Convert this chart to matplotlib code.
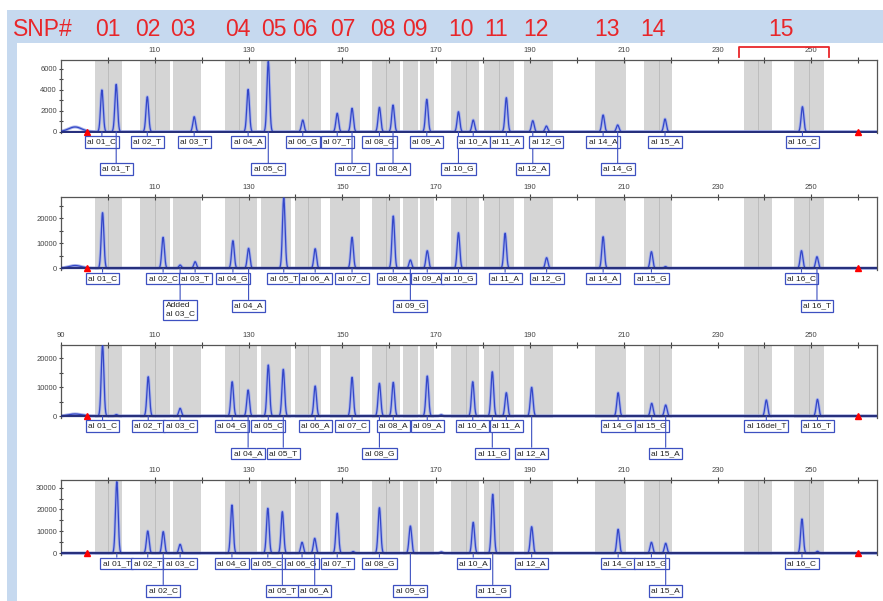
"""
SNaPshot electropherogram panels, SNP 01-15 bins.
"""
import numpy as np
import matplotlib
matplotlib.use("Agg")
import matplotlib.pyplot as plt
from matplotlib.patches import Rectangle
from matplotlib.transforms import blended_transform_factory

plt.rcParams["font.family"] = ["Liberation Sans", "DejaVu Sans"]

nan = np.nan

# ── Bins (size, bp) ──────────────────────────────────────────────────────────
BIN_LO  = [97.2, 106.9, 113.8, 125.0, 132.6, 139.9, 147.3, 156.4, 162.9, 166.5,
           173.2, 180.3, 188.7, 203.9, 214.3, 235.6, 246.4]
BIN_HI  = [103.1, 113.3, 119.8, 131.7, 139.0, 145.5, 153.7, 162.3, 166.1, 169.6,
           179.2, 186.5, 195.0, 210.4, 220.2, 241.6, 252.6]
BIN_DIV = [100.0, 110.1, nan, 128.0, nan, 142.7, nan, 159.4, nan, nan,
           176.4, 183.5, nan, nan, 217.5, 238.7, 249.6]

# ── SNP header ───────────────────────────────────────────────────────────────
SNP_NAMES = ["01", "02", "03", "04", "05", "06", "07", "08", "09", "10",
             "11", "12", "13", "14", "15"]
SNP_X     = [100.0, 108.5, 116.0, 127.7, 135.3, 141.9, 150.0, 158.7, 165.5, 175.4,
             182.8, 191.3, 206.5, 216.3, 243.5]
SNP15_SPAN = (234.5, 253.8)

# ── Panel 1 ──────────────────────────────────────────────────────────────────
P1_POS = [98.72, 101.77, 108.4, 118.4, 129.9, 134.2, 141.55, 148.9, 152.06, 157.9,
          160.8, 168.0, 174.75, 177.9, 184.96, 190.6, 193.5, 205.6, 208.7, 218.8, 248.1]
P1_HT  = [3970, 4510, 3330, 1430, 4030, 6700, 1110, 1750, 2230, 2320,
          2540, 3080, 1900, 1110, 3240, 1050, 540, 1590, 640, 1210, 2380]
P1_LBL = ["al 01_C", "al 01_T", "al 02_T", "al 03_T", "al 04_A", "al 05_C", "al 06_G",
          "al 07_T", "al 07_C", "al 08_G", "al 08_A", "al 09_A", "al 10_G", "al 10_A",
          "al 11_A", "al 12_A", "al 12_G", "al 14_A", "al 14_G", "al 15_A", "al 16_C"]
P1_ROW = [1, 2, 1, 1, 1, 2, 1, 1, 2, 1, 2, 1, 2, 1, 1, 2, 1, 1, 2, 1, 1]

# ── Panel 2 ──────────────────────────────────────────────────────────────────
P2_POS = [98.86, 111.77, 115.4, 118.6, 126.66, 130.0, 137.5, 144.2, 152.06, 160.85,
          164.5, 168.1, 174.75, 184.7, 193.55, 205.6, 215.9, 218.9, 247.9, 251.2]
P2_HT  = [22240, 12400, 1300, 2640, 11040, 8000, 28240, 7840, 12400, 20920,
          3320, 7040, 14240, 14000, 4240, 12640, 6640, 700, 7040, 4640]
P2_LBL = ["al 01_C", "al 02_C", "Added\nal 03_C", "al 03_T", "al 04_G", "al 04_A",
          "al 05_T", "al 06_A", "al 07_C", "al 08_A", "al 09_G", "al 09_A", "al 10_G",
          "al 11_A", "al 12_G", "al 14_A", "al 15_G", "", "al 16_C", "al 16_T"]
P2_ROW = [1, 1, 2, 1, 1, 2, 1, 1, 1, 1, 2, 1, 1, 1, 1, 1, 1, 0, 1, 2]

# ── Panel 3 ──────────────────────────────────────────────────────────────────
P3_POS = [98.86, 101.8, 108.6, 115.4, 126.5, 129.9, 134.2, 137.4, 144.2, 152.06,
          157.9, 160.85, 168.1, 171.06, 177.8, 181.97, 184.96, 190.36, 208.8, 215.96,
          218.94, 240.4, 251.3]
P3_HT  = [24640, 500, 13640, 2670, 11900, 9020, 17700, 16200, 10410, 13430,
          11340, 11690, 13880, 400, 11900, 15370, 8090, 9950, 8090, 4400,
          3820, 5550, 5780]
P3_LBL = ["al 01_C", "", "al 02_T", "al 03_C", "al 04_G", "al 04_A", "al 05_C",
          "al 05_T", "al 06_A", "al 07_C", "al 08_G", "al 08_A", "al 09_A", "",
          "al 10_A", "al 11_G", "al 11_A", "al 12_A", "al 14_G", "al 15_G", "al 15_A",
          "al 16del_T", "al 16_T"]
P3_ROW = [1, 0, 1, 1, 1, 2, 1, 2, 1, 1, 2, 1, 1, 0, 1, 2, 1, 2, 1, 1, 2, 1, 1]

# ── Panel 4 ──────────────────────────────────────────────────────────────────
P4_POS = [101.9, 108.5, 111.8, 115.4, 126.45, 134.1, 137.2, 141.4, 144.1, 148.9,
          152.3, 157.9, 164.5, 171.1, 177.9, 182.06, 190.36, 208.8, 215.9, 218.94,
          248.0, 251.3]
P4_HT  = [32700, 10180, 9900, 4100, 22050, 20550, 19000, 5020, 6850, 18260,
          800, 20820, 12460, 600, 14150, 26940, 12150, 10960, 5020, 4570,
          15660, 900]
P4_LBL = ["al 01_T", "al 02_T", "al 02_C", "al 03_C", "al 04_G", "al 05_C", "al 05_T",
          "al 06_G", "al 06_A", "al 07_T", "", "al 08_G", "al 09_G", "", "al 10_A",
          "al 11_G", "al 12_A", "al 14_G", "al 15_G", "al 15_A", "al 16_C", ""]
P4_ROW = [1, 1, 2, 1, 1, 1, 2, 1, 2, 1, 0, 1, 2, 0, 1, 2, 1, 1, 1, 2, 1, 0]

# primer hump height, y range and y ticks per panel
HUMP_HT  = [450, 1100, 700, 0]
Y_MAX    = [6830, 28640, 24650, 33470]
Y_MIN    = [-143, -600, -520, -685]
Y_MAJOR  = [[0, 2000, 4000, 6000], [0, 10000, 20000], [0, 10000, 20000],
            [0, 10000, 20000, 30000]]
Y_MINOR  = [1000, 5000, 5000, 5000]
MARKERS_X = [95.5, 260.0]

PANELS = [
    (P1_POS, P1_HT, P1_LBL, P1_ROW),
    (P2_POS, P2_HT, P2_LBL, P2_ROW),
    (P3_POS, P3_HT, P3_LBL, P3_ROW),
    (P4_POS, P4_HT, P4_LBL, P4_ROW),
]

# axes boxes in pixels (top, bottom) of 883x601 image
W, H = 883, 601
AX_LEFT, AX_RIGHT = 61, 877
AX_TB = [(60, 133.2), (196.7, 269.8), (345, 417.5), (480, 554.8)]

BLUE_BG = "#c6d9ef"
RED     = "#e8262a"
TRACE   = "#3447c8"
HALO    = "#a8b3ea"
NAVY    = "#27307d"
BOX_EC  = "#3d50c0"
BIN_C   = "#d5d5d5"


def main():
    fig = plt.figure(figsize=(W / 100, H / 100), dpi=100)
    fig.patch.set_facecolor("white")

    # light blue frame (top strip + left strip)
    fig.add_artist(Rectangle((7 / W, 1 - 43 / H), 1, 33 / H, transform=fig.transFigure,
                             color=BLUE_BG, zorder=-5, lw=0))
    fig.add_artist(Rectangle((7 / W, 0), 10 / W, 1 - 10 / H, transform=fig.transFigure,
                             color=BLUE_BG, zorder=-5, lw=0))

    xs = np.arange(90, 264.01, 0.02)
    axes = []
    for i, (pos, ht, lbl, row) in enumerate(PANELS):
        top, bot = AX_TB[i]
        ax = fig.add_axes([AX_LEFT / W, 1 - bot / H, (AX_RIGHT - AX_LEFT) / W, (bot - top) / H])
        axes.append(ax)

        # bins
        for lo, hi, dv in zip(BIN_LO, BIN_HI, BIN_DIV):
            ax.axvspan(lo, hi, color=BIN_C, lw=0, zorder=0)
            if not np.isnan(dv):
                ax.axvline(dv, color="#b9b9b9", lw=0.6, zorder=0.5)

        # trace
        y = HUMP_HT[i] * np.exp(-0.5 * ((xs - 93.0) / 1.4) ** 2)
        for p, h in zip(pos, ht):
            y = y + h * np.exp(-0.5 * ((xs - p) / 0.28) ** 2)
        ax.plot(xs, y, color=HALO, lw=2.2, zorder=2, solid_joinstyle="round")
        ax.plot(xs, y, color=TRACE, lw=0.9, zorder=3)
        ax.axhline(0, color=NAVY, lw=1.6, zorder=4)
        ax.plot(MARKERS_X, [0, 0], ls="none", marker="^", ms=4, color="red", zorder=5,
                clip_on=False)

        ax.set_xlim(90, 264)
        ax.set_ylim(Y_MIN[i], Y_MAX[i])

        # ticks
        ax.xaxis.tick_top()
        major = list(range(110, 251, 20))
        if i == 2:
            major = [90] + major
        ax.set_xticks(major)
        ax.set_xticks(list(range(100, 261, 20)), minor=True)
        ax.tick_params(axis="x", which="both", direction="inout", length=4, width=0.8,
                       labelsize=5.5, pad=2, colors="#444444")
        ax.set_yticks(Y_MAJOR[i])
        ax.set_yticks(np.arange(0, Y_MAX[i], Y_MINOR[i]), minor=True)
        ax.tick_params(axis="y", which="both", direction="inout", length=3, width=0.8,
                       labelsize=5.5, pad=1.5, colors="#444444")
        for s in ["top", "left", "right"]:
            ax.spines[s].set_color("#555555")
            ax.spines[s].set_linewidth(0.9)
        ax.spines["bottom"].set_visible(False)

        # allele label boxes
        for p, t, r in zip(pos, lbl, row):
            if not t:
                continue
            off = -4.8 if r == 1 else -24.5
            ax.annotate(t, xy=(p, 0), xytext=(0, off), textcoords="offset points",
                        ha="center", va="top", fontsize=6.0, color="#222222",
                        multialignment="left", annotation_clip=False, zorder=6,
                        bbox=dict(boxstyle="square,pad=0.28", fc="white", ec=BOX_EC, lw=0.9),
                        arrowprops=dict(arrowstyle="-", color=BOX_EC, lw=0.8,
                                        shrinkA=0, shrinkB=0))

    # SNP header in the blue strip, aligned with the size axis of panel 1
    ax1 = axes[0]
    trans = blended_transform_factory(ax1.transData, fig.transFigure)
    for name, x in zip(SNP_NAMES, SNP_X):
        ax1.text(x, 1 - 30 / H, name, transform=trans, ha="center", va="center",
                 fontsize=16.5, color=RED, clip_on=False)
    fig.text(43 / W, 1 - 30 / H, "SNP#", ha="center", va="center", fontsize=16.5, color=RED)

    # bracket over SNP 15 bin
    btr = blended_transform_factory(ax1.transData, ax1.transAxes)
    lo, hi = SNP15_SPAN
    ax1.plot([lo, lo, hi, hi], [1.045, 1.182, 1.182, 1.045], transform=btr, color=RED,
             lw=1.3, clip_on=False)

    fig.savefig("out.png", dpi=100)
    plt.close(fig)


if __name__ == "__main__":
    main()
